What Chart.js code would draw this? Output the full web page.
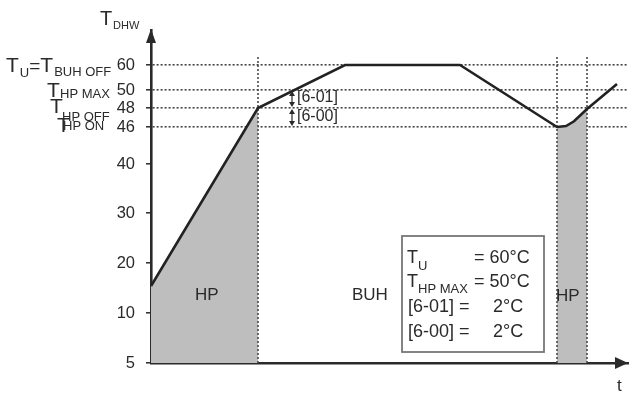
<!DOCTYPE html>
<html>
<head>
<meta charset="utf-8">
<script src="https://cdn.jsdelivr.net/npm/chart.js@4/dist/chart.umd.min.js"></script>
<style>
  html, body { margin: 0; padding: 0; background: #ffffff; }
  canvas { display: block; }
</style>
</head>
<body>
<canvas id="c" width="635" height="395"></canvas>
<script>
// ---------------- DATA ----------------
const timeValues = [0, 10.7, 19.4, 30.9, 40.6, 41.5, 42.3, 43.6, 46.6];
const tempValues = [15.4, 48, 60, 60, 46, 46.1, 46.6, 47.9, 52.4];
const hpPeriods = [[0, 10.7], [40.6, 43.6]];
const yTickValues = [5, 10, 20, 30, 40, 46, 48, 50, 60];
const dottedLevels = [46, 48, 50, 60];
const switchLineTop = 64;
const periodLabels = ['HP', 'BUH', 'HP'];
const settingRows = [
  { name: ['T', 'U'], value: '= 60°C' },
  { name: ['T', 'HP MAX'], value: '= 50°C' },
  { name: ['[6-01] =', ''], value: '2°C' },
  { name: ['[6-00] =', ''], value: '2°C' }
];

// schematic (non-uniform) spacing of the temperature axis
const axisBreakValues = [5, 10, 20, 30, 40, 46, 48, 50, 60];
const axisBreakSpacing = [0, 1, 2, 3, 3.98, 4.72, 5.1, 5.46, 5.96];

// ---------------- custom warped scale ----------------
function warp(v) {
  const b = axisBreakValues, s = axisBreakSpacing, n = b.length;
  if (v <= b[0]) return s[0] + (v - b[0]) * (s[1] - s[0]) / (b[1] - b[0]);
  for (let i = 1; i < n; i++) {
    if (v <= b[i]) return s[i - 1] + (v - b[i - 1]) * (s[i] - s[i - 1]) / (b[i] - b[i - 1]);
  }
  return s[n - 1] + (v - b[n - 1]) * (s[n - 1] - s[n - 2]) / (b[n - 1] - b[n - 2]);
}
function unwarp(u) {
  const b = axisBreakValues, s = axisBreakSpacing, n = b.length;
  if (u <= s[0]) return b[0] + (u - s[0]) * (b[1] - b[0]) / (s[1] - s[0]);
  for (let i = 1; i < n; i++) {
    if (u <= s[i]) return b[i - 1] + (u - s[i - 1]) * (b[i] - b[i - 1]) / (s[i] - s[i - 1]);
  }
  return b[n - 1] + (u - s[n - 1]) * (b[n - 1] - b[n - 2]) / (s[n - 1] - s[n - 2]);
}
class WarpScale extends Chart.LinearScale {
  getPixelForValue(value) {
    const u0 = warp(this.min), u1 = warp(this.max);
    return this.getPixelForDecimal((warp(value) - u0) / (u1 - u0));
  }
  getValueForPixel(pixel) {
    const u0 = warp(this.min), u1 = warp(this.max);
    return unwarp(u0 + this.getDecimalForPixel(pixel) * (u1 - u0));
  }
}
WarpScale.id = 'warp';
WarpScale.defaults = Chart.LinearScale.defaults;
Chart.register(WarpScale);

// ---------------- datasets ----------------
const series = timeValues.map((t, i) => ({ x: t, y: tempValues[i] }));
const FONT = '"Liberation Sans", Arial, sans-serif';
const INK = '#2a2a2a';

const datasets = [
  {
    data: series, borderColor: '#222', borderWidth: 2.6, pointRadius: 0,
    tension: 0, fill: false, order: 0
  }
];
hpPeriods.forEach(([a, b]) => {
  datasets.push({
    data: series.filter(p => p.x >= a - 1e-9 && p.x <= b + 1e-9),
    borderWidth: 0, pointRadius: 0, backgroundColor: '#bebebe',
    fill: 'start', order: 3
  });
});
const switchTimes = [hpPeriods[0][1], hpPeriods[1][0], hpPeriods[1][1]];
switchTimes.forEach(t => {
  datasets.push({
    data: [{ x: t, y: 5 }, { x: t, y: switchLineTop }],
    borderColor: '#4a4a4a', borderWidth: 1.6, borderDash: [2, 2],
    pointRadius: 0, fill: false, order: 1
  });
});

// ---------------- drawing helpers ----------------
function txt(ctx, s, x, y, size, align) {
  ctx.font = size + 'px ' + FONT;
  ctx.textAlign = align || 'left';
  ctx.textBaseline = 'alphabetic';
  ctx.fillText(s, x, y);
  return ctx.measureText(s).width;
}
function arrowHead(ctx, x, y, dir, len, half) {
  ctx.beginPath();
  if (dir === 'up') { ctx.moveTo(x, y); ctx.lineTo(x - half, y + len); ctx.lineTo(x + half, y + len); }
  if (dir === 'down') { ctx.moveTo(x, y); ctx.lineTo(x - half, y - len); ctx.lineTo(x + half, y - len); }
  if (dir === 'right') { ctx.moveTo(x, y); ctx.lineTo(x - len, y - half); ctx.lineTo(x - len, y + half); }
  ctx.closePath();
  ctx.fill();
}

const decor = {
  id: 'decor',
  afterDraw(chart) {
    const ctx = chart.ctx, ys = chart.scales.y, ca = chart.chartArea;
    ctx.save();
    ctx.fillStyle = INK;
    ctx.strokeStyle = INK;

    // axis arrows
    arrowHead(ctx, ca.left, ca.top - 1, 'up', 14, 5);
    arrowHead(ctx, ca.right, ca.bottom, 'right', 13, 6);

    // axis titles
    txt(ctx, 'T', 100, 25, 20);
    txt(ctx, 'DHW', 113, 29, 11);
    txt(ctx, 't', 617, 391, 17);

    // left side symbol labels
    let p = ys.getPixelForValue(60);
    let x = 6;
    x += txt(ctx, 'T', x, p + 7, 21);
    x += txt(ctx, 'U', x + 1, p + 12, 13) + 1;
    x += txt(ctx, '=', x, p + 7, 19);
    x += txt(ctx, 'T', x, p + 7, 21);
    txt(ctx, 'BUH OFF', x + 1, p + 11, 13);

    p = ys.getPixelForValue(50);
    txt(ctx, 'T', 47, p + 7, 21);
    txt(ctx, 'HP MAX', 60, p + 8, 13);

    p = ys.getPixelForValue(48);
    txt(ctx, 'T', 50, p + 5, 21);
    txt(ctx, 'HP OFF', 62, p + 13, 13);

    p = ys.getPixelForValue(46);
    txt(ctx, 'T', 57, p + 5, 21);
    txt(ctx, 'HP ON', 63, p + 3, 13);

    // period labels
    txt(ctx, periodLabels[0], 195, 300, 17);
    txt(ctx, periodLabels[1], 352, 300, 17);
    txt(ctx, periodLabels[2], 556, 301, 17);

    // hysteresis annotations
    const ax = 292;
    const y50 = ys.getPixelForValue(50), y48 = ys.getPixelForValue(48), y46 = ys.getPixelForValue(46);
    ctx.lineWidth = 1.2;
    [[y50, y48], [y48, y46]].forEach(([a, b]) => {
      ctx.beginPath(); ctx.moveTo(ax, a + 3); ctx.lineTo(ax, b - 3); ctx.stroke();
      arrowHead(ctx, ax, a + 1, 'up', 5, 3);
      arrowHead(ctx, ax, b - 1, 'down', 5, 3);
    });
    txt(ctx, '[6-01]', 297, y50 + 12, 16);
    txt(ctx, '[6-00]', 297, y48 + 13, 16);

    // settings box
    ctx.fillStyle = '#ffffff';
    ctx.fillRect(402, 236, 142, 116);
    ctx.strokeStyle = '#777';
    ctx.lineWidth = 1.8;
    ctx.strokeRect(402, 236, 142, 116);
    ctx.fillStyle = INK;
    const rowBase = [263, 287, 312, 337];
    settingRows.forEach((r, i) => {
      const b = rowBase[i];
      if (r.name[1]) {
        const w = txt(ctx, r.name[0], 407, b, 18);
        txt(ctx, r.name[1], 407 + w, b + (i === 0 ? 7 : 6), 13);
        txt(ctx, r.value, 474, b, 18);
      } else {
        txt(ctx, r.name[0], 408, b, 18);
        txt(ctx, r.value, 493, b, 18);
      }
    });
    ctx.restore();
  }
};

// ---------------- chart ----------------
new Chart(document.getElementById('c'), {
  type: 'line',
  data: { datasets },
  options: {
    responsive: false,
    animation: false,
    devicePixelRatio: 1,
    layout: { padding: { left: 0, right: 7, top: 30, bottom: 32 } },
    plugins: { legend: { display: false }, tooltip: { enabled: false } },
    scales: {
      x: {
        type: 'linear', min: 0, max: 47.7,
        ticks: { display: false },
        grid: { display: false, drawTicks: false },
        border: { display: true, color: INK, width: 2.6 },
        afterFit: s => { s.height = 0; }
      },
      y: {
        type: 'warp', min: 5, max: 74,
        afterBuildTicks: s => { s.ticks = yTickValues.map(v => ({ value: v })); },
        afterFit: s => { s.width = 151; },
        ticks: {
          autoSkip: false,
          padding: 11,
          color: INK,
          font: { family: FONT, size: 16.5 },
          callback: v => String(v)
        },
        grid: {
          drawTicks: true,
          tickLength: 5,
          tickColor: INK,
          tickWidth: 1.5,
          tickBorderDash: [],
          lineWidth: 1.6,
          color: c => (c.tick && dottedLevels.includes(c.tick.value)) ? '#444' : 'rgba(0,0,0,0)'
        },
        border: { display: true, color: INK, width: 2.6, dash: [2, 2] }
      }
    }
  },
  plugins: [decor]
});
</script>
</body>
</html>
